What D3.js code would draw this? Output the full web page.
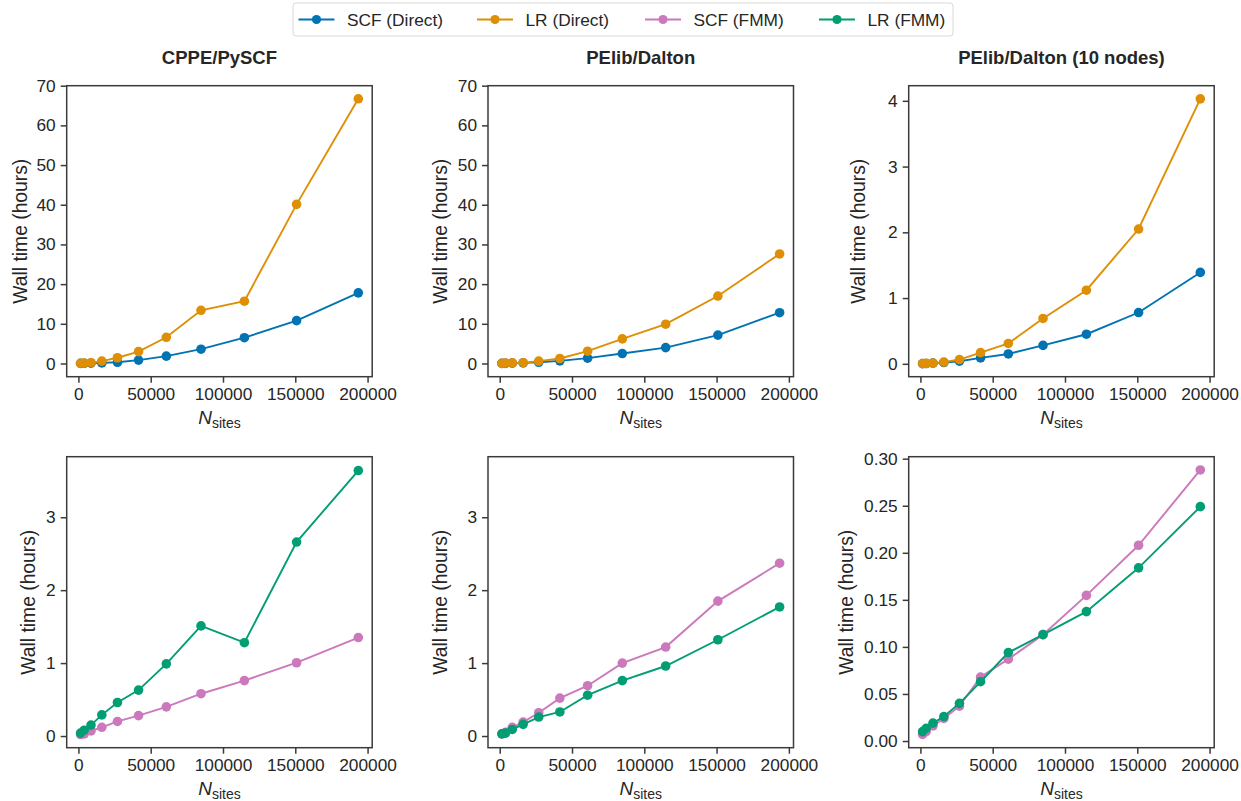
<!DOCTYPE html>
<html>
<head>
<meta charset="utf-8">
<script src="https://cdn.jsdelivr.net/npm/d3@7"></script>
<style>
  body { margin: 0; background: #fff; }
  text { font-family: "Liberation Sans", Arial, sans-serif; fill: #262626; }
</style>
</head>
<body>
<svg id="svg" width="1241" height="801"></svg>
<script>
// number of polarizable sites (x values shared by all series)
const nSites = [1500, 4000, 8700, 16200, 27000, 41600, 60800, 84800, 114800, 150900, 193600];

// CPPE/PySCF
const cppeScfDirect = [0.02, 0.05, 0.1, 0.15, 0.3, 0.85, 1.85, 3.6, 6.5, 10.8, 17.8];
const cppeLrDirect  = [0.05, 0.1, 0.2, 0.6, 1.45, 3.0, 6.6, 13.4, 15.7, 40.1, 66.7];
const cppeScfFmm    = [0.02, 0.03, 0.07, 0.12, 0.20, 0.28, 0.40, 0.58, 0.76, 1.005, 1.35];
const cppeLrFmm     = [0.04, 0.08, 0.15, 0.29, 0.46, 0.63, 0.99, 1.51, 1.28, 2.66, 3.64];

// PElib/Dalton
const pelibScfDirect = [0.02, 0.04, 0.08, 0.15, 0.3, 0.67, 1.35, 2.5, 4.0, 7.15, 12.8];
const pelibLrDirect  = [0.04, 0.08, 0.15, 0.2, 0.6, 1.26, 3.1, 6.2, 9.9, 17.0, 27.6];
const pelibScfFmm    = [0.03, 0.05, 0.12, 0.19, 0.32, 0.52, 0.69, 1.0, 1.22, 1.85, 2.37];
const pelibLrFmm     = [0.03, 0.04, 0.09, 0.16, 0.26, 0.33, 0.56, 0.76, 0.96, 1.32, 1.77];

// PElib/Dalton (10 nodes)
const nodesScfDirect = [0.003, 0.005, 0.01, 0.02, 0.04, 0.09, 0.15, 0.28, 0.45, 0.78, 1.39];
const nodesLrDirect  = [0.004, 0.006, 0.01, 0.025, 0.065, 0.17, 0.31, 0.69, 1.12, 2.05, 4.03];
const nodesScfFmm    = [0.007, 0.010, 0.016, 0.024, 0.037, 0.068, 0.087, 0.113, 0.1547, 0.208, 0.288];
const nodesLrFmm     = [0.010, 0.0135, 0.019, 0.026, 0.040, 0.063, 0.094, 0.113, 0.1375, 0.184, 0.249];

const seriesNames = ["SCF (Direct)", "LR (Direct)", "SCF (FMM)", "LR (FMM)"];
const colors = ["#0173b2", "#de8f05", "#cc78bc", "#029e73"];

const panelTitles = ["CPPE/PySCF", "PElib/Dalton", "PElib/Dalton (10 nodes)"];
const xTicks = [0, 50000, 100000, 150000, 200000];
const yTicksTop = [[0, 10, 20, 30, 40, 50, 60, 70], [0, 10, 20, 30, 40, 50, 60, 70], [0, 1, 2, 3, 4]];
const yTicksBottom = [[0, 1, 2, 3], [0, 1, 2, 3], [0, 0.05, 0.10, 0.15, 0.20, 0.25, 0.30]];

const svg = d3.select("#svg");

const colLeft = [66.7, 488, 908.7];
const panelW = 305.5;
const rowTop = [85.7, 456.7];
const panelH = 291;

// x domain same for all panels (matplotlib style margins)
const xDomain = [-8100, 203200];
const yDomains = [
  [[-3.33, 70.0], [-3.33, 70.0], [-0.196, 4.23]],
  [[-0.16, 3.83], [-0.16, 3.83], [-0.0071, 0.3021]]
];

const panels = [
  [
    [[0, cppeScfDirect], [1, cppeLrDirect]],
    [[0, pelibScfDirect], [1, pelibLrDirect]],
    [[0, nodesScfDirect], [1, nodesLrDirect]]
  ],
  [
    [[2, cppeScfFmm], [3, cppeLrFmm]],
    [[2, pelibScfFmm], [3, pelibLrFmm]],
    [[2, nodesScfFmm], [3, nodesLrFmm]]
  ]
];

// y-label baseline offsets from the left spine
const yLabelX = [[-40, -41.5, -44], [-32, -41.5, -56]];

const axisColor = "#3b3b3b";

for (let r = 0; r < 2; r++) {
  for (let c = 0; c < 3; c++) {
    const x0 = colLeft[c], y0 = rowTop[r];
    const g = svg.append("g").attr("transform", `translate(${x0},${y0})`);
    const x = d3.scaleLinear().domain(xDomain).range([0, panelW]);
    const y = d3.scaleLinear().domain(yDomains[r][c]).range([panelH, 0]);

    const line = d3.line()
      .x((d, i) => x(nSites[i]))
      .y(d => y(d));

    panels[r][c].forEach(([si, vals]) => {
      g.append("path")
        .datum(vals)
        .attr("fill", "none")
        .attr("stroke", colors[si])
        .attr("stroke-width", 1.9)
        .attr("d", line);
      g.selectAll(null)
        .data(vals)
        .enter().append("circle")
        .attr("cx", (d, i) => x(nSites[i]))
        .attr("cy", d => y(d))
        .attr("r", 4.8)
        .attr("fill", colors[si]);
    });

    // frame
    g.append("rect")
      .attr("width", panelW).attr("height", panelH)
      .attr("fill", "none").attr("stroke", axisColor).attr("stroke-width", 1.5);

    // x axis
    const xa = g.append("g")
      .attr("transform", `translate(0,${panelH})`)
      .call(d3.axisBottom(x).tickValues(xTicks).tickFormat(d3.format("d")).tickSize(6).tickPadding(5));
    const yTicks = r === 0 ? yTicksTop[c] : yTicksBottom[c];
    const yFmt = (r === 1 && c === 2) ? d3.format(".2f") : d3.format("d");
    const ya = g.append("g")
      .call(d3.axisLeft(y).tickValues(yTicks).tickFormat(yFmt).tickSize(6).tickPadding(5));
    [xa, ya].forEach(a => {
      a.select(".domain").remove();
      a.selectAll("line").attr("stroke", axisColor).attr("stroke-width", 1.5);
      a.selectAll("text").attr("font-size", 17.3).attr("fill", "#262626")
        .style("font-family", "'Liberation Sans', Arial, sans-serif");
    });

    // x label N_sites
    const xl = g.append("text")
      .attr("x", panelW / 2)
      .attr("y", panelH + 47)
      .attr("text-anchor", "middle")
      .attr("font-size", 19);
    xl.append("tspan").attr("font-style", "italic").text("N");
    xl.append("tspan").attr("font-size", 14).attr("dy", 4).text("sites");

    // y label
    g.append("text")
      .attr("transform", `translate(${yLabelX[r][c]},${panelH / 2}) rotate(-90)`)
      .attr("text-anchor", "middle")
      .attr("font-size", 19.3)
      .text("Wall time (hours)");

    if (r === 0) {
      g.append("text")
        .attr("x", panelW / 2)
        .attr("y", -22)
        .attr("text-anchor", "middle")
        .attr("font-size", 18.5)
        .attr("font-weight", "bold")
        .text(panelTitles[c]);
    }
  }
}

// legend
const lg = svg.append("g").attr("transform", "translate(293,3)");
lg.append("rect")
  .attr("width", 660).attr("height", 33).attr("rx", 3)
  .attr("fill", "#fff").attr("stroke", "#d9d9d9").attr("stroke-width", 1);
const legendX = [5.5, 184, 352, 526];
seriesNames.forEach((name, i) => {
  const gx = legendX[i];
  lg.append("line")
    .attr("x1", gx).attr("x2", gx + 36).attr("y1", 16.5).attr("y2", 16.5)
    .attr("stroke", colors[i]).attr("stroke-width", 1.9);
  lg.append("circle").attr("cx", gx + 18).attr("cy", 16.5).attr("r", 4.6).attr("fill", colors[i]);
  lg.append("text")
    .attr("x", gx + 48.5).attr("y", 22.8)
    .attr("font-size", 17.3)
    .text(name);
});
</script>
</body>
</html>
